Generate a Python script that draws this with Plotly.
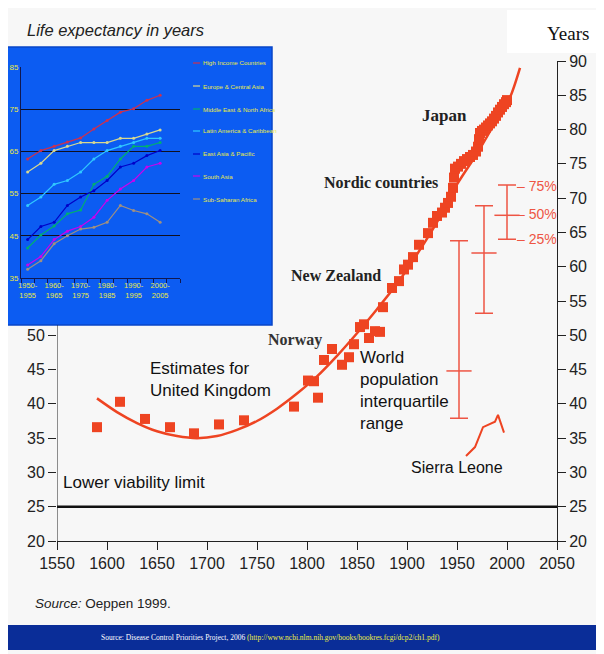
import plotly.graph_objects as go

# The page body has an 8 px margin, so the figure is sized to fill the rest of the window
OFF = 8
W, H = 604 - OFF, 654 - OFF


def px(x):
    return (x - OFF) / W


def py(y):
    return 1 - (y - OFF) / H


# ---------------- main chart data ----------------
uk_years = [1590, 1613, 1638, 1663, 1687, 1712, 1737, 1787, 1801, 1807, 1811]
uk_life = [36.6, 40.3, 37.8, 36.6, 35.7, 37.0, 37.6, 39.6, 43.4, 43.3, 40.9]

record_years = [1817, 1825, 1835, 1842, 1847, 1853, 1857, 1862, 1868, 1873, 1876,
                1885, 1892, 1897, 1901, 1906, 1912, 1921, 1926, 1930, 1935, 1938,
                1941, 1944, 1946, 1947, 1948, 1951, 1954, 1957, 1960, 1963, 1966,
                1969, 1971, 1972, 1973, 1975, 1977, 1979, 1981, 1983, 1985, 1987,
                1989, 1991, 1993, 1995, 1997, 1999, 2000]
record_life = [46.4, 48.0, 45.7, 46.8, 48.7, 51.2, 51.6, 49.6, 50.6, 50.5, 54.1,
               56.9, 57.9, 59.6, 60.3, 61.4, 63.2, 64.9, 66.4, 67.4, 67.9, 68.6,
               69.3, 70.2, 71.5, 73.0, 74.3, 74.6, 75.0, 75.4, 75.7, 76.0, 76.3,
               76.8, 77.5, 78.6, 79.5, 79.8, 80.0, 80.3, 80.6, 80.9, 81.2, 81.6,
               82.0, 82.5, 82.9, 83.3, 83.7, 84.0, 84.3]

trend_years = [1590, 1610, 1630, 1650, 1670, 1690, 1710, 1730, 1750, 1770, 1790,
               1810, 1830, 1850, 1870, 1890, 1910, 1930, 1950, 1970, 1990, 2003, 2013]
trend_life = [40.8, 38.8, 37.2, 36.0, 35.3, 35.0, 35.3, 36.2, 37.5, 39.3, 41.5,
              44.0, 47.0, 50.3, 53.8, 57.5, 61.8, 66.5, 72.0, 76.5, 81.5, 84.7, 89.0]

sierra_years = [1959, 1968, 1976, 1981, 1988, 1991, 1997]
sierra_life = [32.4, 33.7, 36.6, 36.9, 37.4, 38.4, 35.8]

iqr_years = [1952, 1977, 2000]
iqr_q25 = [37.9, 53.2, 64.0]
iqr_q50 = [44.8, 62.0, 67.5]
iqr_q75 = [63.8, 68.9, 71.9]
iqr_labels = ["75%", "50%", "25%"]

viability_limit = 25
x_ticks = list(range(1550, 2051, 50))
y_ticks_right = list(range(20, 91, 5))
y_ticks_left = [20, 25, 30, 35, 40, 45, 50]

# ---------------- inset data ----------------
periods = ["1950-1955", "1955-1960", "1960-1965", "1965-1970", "1970-1975", "1975-1980",
           "1980-1985", "1985-1990", "1990-1995", "1995-2000", "2000-2005"]
inset_labels = ["1950-<br>1955", "1960-<br>1965", "1970-<br>1975", "1980-<br>1985",
                "1990-<br>1995", "2000-<br>2005"]
regions = ["High Income Countries", "Europe & Central Asia", "Middle East & North Africa",
           "Latin America & Caribbean", "East Asia & Pacific", "South Asia", "Sub-Saharan Africa"]
high_income = [63.2, 65.2, 66.2, 67.2, 68.2, 70.3, 72.3, 74.3, 75.1, 77.1, 78.3]
europe_ca = [60.1, 62.2, 65.2, 66.2, 67.1, 67.1, 67.1, 68.1, 68.1, 69.1, 70.1]
mena = [42.1, 45.2, 47.3, 50.2, 51.1, 57.2, 59.1, 63.2, 66.2, 66.2, 67.1]
latam = [52.2, 54.2, 57.2, 58.1, 60.1, 63.2, 65.2, 66.2, 67.1, 68.1, 68.1]
east_asia = [44.1, 47.2, 48.2, 52.2, 54.2, 55.7, 58.1, 61.3, 62.2, 64.0, 65.2]
south_asia = [38.1, 40.1, 44.1, 46.1, 47.2, 49.4, 53.4, 56.1, 58.1, 61.3, 62.2]
ssa = [37.1, 39.1, 43.1, 45.0, 46.6, 47.0, 48.2, 52.2, 51.0, 50.2, 48.2]
inset_series = [high_income, europe_ca, mena, latam, east_asia, south_asia, ssa]
inset_colors = ["#d0304c", "#d8d890", "#00b070", "#30c8ff", "#0000c8", "#cc00ee", "#a09080"]
inset_y_ticks = [35, 45, 55, 65, 75, 85]

RED = "#ee4422"
LRED = "#ee5544"
SANS = "Liberation Sans, Arial, sans-serif"
SERIF = "Liberation Serif, Times New Roman, serif"
YELLOW = "#eaea44"

fig = go.Figure()

# trend curve
fig.add_trace(go.Scatter(x=trend_years, y=trend_life, mode="lines",
                         line=dict(color=RED, width=2.5, shape="spline", smoothing=0.8),
                         hoverinfo="skip", showlegend=False))
# UK estimates
fig.add_trace(go.Scatter(x=uk_years, y=uk_life, mode="markers",
                         marker=dict(symbol="square", size=10, color=RED),
                         showlegend=False))
# record life expectancy
fig.add_trace(go.Scatter(x=record_years, y=record_life, mode="markers",
                         marker=dict(symbol="square", size=10, color=RED),
                         showlegend=False))
# Sierra Leone
fig.add_trace(go.Scatter(x=sierra_years, y=sierra_life, mode="lines",
                         line=dict(color=RED, width=2), showlegend=False, yaxis="y3"))
# interquartile range bars
fig.add_trace(go.Scatter(
    x=iqr_years, y=iqr_q50, mode="markers",
    marker=dict(symbol="line-ew", size=18, line=dict(color=LRED, width=1.5)),
    error_y=dict(type="data", symmetric=False,
                 array=[a - b for a, b in zip(iqr_q75, iqr_q50)],
                 arrayminus=[b - c for b, c in zip(iqr_q50, iqr_q25)],
                 color=LRED, thickness=1.5, width=9),
    showlegend=False))

# inset series
for name, vals, col in zip(regions, inset_series, inset_colors):
    fig.add_trace(go.Scatter(x=list(range(len(periods))), y=vals, mode="lines+markers",
                             name=name, xaxis="x2", yaxis="y2",
                             line=dict(color=col, width=1.2),
                             marker=dict(size=3, color=col),
                             showlegend=False))

shapes = [
    # inset blue panel
    dict(type="rect", xref="paper", yref="paper", x0=px(3), x1=px(272), y0=py(325), y1=py(47),
         fillcolor="#0c5cf2", line=dict(color="#0846c8", width=1.5), layer="below"),
    # "Years" white box
    dict(type="rect", xref="paper", yref="paper", x0=px(507), x1=px(604), y0=py(53), y1=py(10),
         fillcolor="white", line=dict(width=0), layer="below"),
    # bottom source band
    dict(type="rect", xref="paper", yref="paper", x0=px(3), x1=px(601), y0=py(650), y1=py(625),
         fillcolor="#0a2d98", line=dict(width=0), layer="below"),
    # lower viability line
    dict(type="line", xref="x", yref="y", x0=1550, x1=2050, y0=viability_limit, y1=viability_limit,
         line=dict(color="#111", width=2.5)),
    # left axis line (visible part under the inset)
    dict(type="line", xref="x", yref="paper", x0=1550, x1=1550, y0=py(541), y1=py(325),
         line=dict(color="#222", width=1)),
]
annotations = []

# inset legend
legend_rows = [63, 86, 109, 131, 154, 176, 199]
for name, col, ry in zip(regions, inset_colors, legend_rows):
    shapes.append(dict(type="line", xref="paper", yref="paper", x0=px(193), x1=px(200),
                       y0=py(ry), y1=py(ry), line=dict(color=col, width=1.2)))
    annotations.append(dict(xref="paper", yref="paper", x=px(201), y=py(ry), text=name,
                            showarrow=False, xanchor="left", yanchor="middle",
                            font=dict(family=SANS, size=6.2, color=YELLOW)))

# interquartile labels
for lab, ry in zip(iqr_labels, [186, 214, 239]):
    annotations.append(dict(xref="paper", yref="paper", x=px(515), y=py(ry), text="– " + lab,
                            showarrow=False, xanchor="left", yanchor="middle",
                            font=dict(family=SANS, size=14, color=LRED)))


def label(text, x, y, font, anchor="center", align="center"):
    annotations.append(dict(xref="paper", yref="paper", x=px(x), y=py(y), text=text,
                            showarrow=False, xanchor=anchor, yanchor="middle", align=align,
                            font=font))


label("<b>Japan</b>", 444, 116, dict(family=SERIF, size=17, color="#222"))
label("<b>Nordic countries</b>", 381, 182, dict(family=SERIF, size=16, color="#222"))
label("<b>New Zealand</b>", 336, 275, dict(family=SERIF, size=16, color="#222"))
label("<b>Norway</b>", 295, 340, dict(family=SERIF, size=16, color="#333"))
label("Estimates for<br>United Kingdom", 148, 379, dict(family=SANS, size=17, color="#111"),
      anchor="left", align="left")
label("World<br>population<br>interquartile<br>range", 358, 390,
      dict(family=SANS, size=17, color="#111"), anchor="left", align="left")
label("Sierra Leone", 457, 467, dict(family=SANS, size=16, color="#111"))
label("Lower viability limit", 61, 482, dict(family=SANS, size=17, color="#111"), anchor="left")
label("<i>Life expectancy in years</i>", 25, 30, dict(family=SANS, size=16.5, color="#222"),
      anchor="left")
label("Years", 568, 33, dict(family=SERIF, size=19, color="#111"))
label("<i>Source:</i> Oeppen 1999.", 33, 603, dict(family=SANS, size=13.5, color="#222"),
      anchor="left")
label("Source: Disease Control Priorities Project, 2006 "
      "<span style='color:#f0f040'>(http://www.ncbi.nlm.nih.gov/books/bookres.fcgi/dcp2/ch1.pdf)</span>",
      270, 637, dict(family=SERIF, size=7.5, color="white"))

TICKFONT = dict(family=SANS, size=16, color="#222")
fig.update_layout(
    width=W, height=H, margin=dict(l=0, r=0, t=0, b=0, autoexpand=False),
    paper_bgcolor="#f7f7f7", plot_bgcolor="rgba(0,0,0,0)",
    showlegend=False,
    xaxis=dict(domain=[px(57), px(557)], range=[1550, 2050], tickvals=x_ticks,
               ticks="outside", ticklen=8, tickcolor="#222", showline=True, linecolor="#222",
               linewidth=1, showgrid=False, zeroline=False, anchor="y", automargin=False,
               tickfont=TICKFONT),
    yaxis=dict(domain=[py(541), py(61)], range=[20, 90], tickvals=y_ticks_left,
               ticks="outside", ticklen=8, tickcolor="#222", showline=False, showgrid=False,
               zeroline=False, anchor="x", automargin=False, tickfont=TICKFONT),
    yaxis3=dict(overlaying="y", side="right", range=[20, 90], tickvals=y_ticks_right,
                ticks="outside", ticklen=8, tickcolor="#222", showline=True, linecolor="#222",
                linewidth=1, showgrid=False, zeroline=False, anchor="x", automargin=False,
                tickfont=TICKFONT),
    xaxis2=dict(domain=[px(21), px(180)], range=[-0.5, 11.5],
                tickvals=[0, 2, 4, 6, 8, 10], ticktext=inset_labels, ticks="",
                showline=True, linecolor="#101850", linewidth=1, showgrid=False,
                zeroline=False, anchor="y2", automargin=False,
                minor=dict(ticks="outside", tickmode="linear", tick0=-0.5, dtick=1,
                           ticklen=4, tickcolor="#101850", showgrid=False),
                tickfont=dict(family=SANS, size=7.5, color=YELLOW)),
    yaxis2=dict(domain=[py(278), py(67)], range=[35, 85], tickvals=inset_y_ticks,
                ticks="", showline=True, linecolor="#101850", linewidth=1,
                showgrid=True, gridcolor="#101020", gridwidth=1, zeroline=False,
                anchor="x2", automargin=False,
                tickfont=dict(family=SANS, size=8, color=YELLOW)),
    shapes=shapes, annotations=annotations,
)

fig.write_html("out.html")
